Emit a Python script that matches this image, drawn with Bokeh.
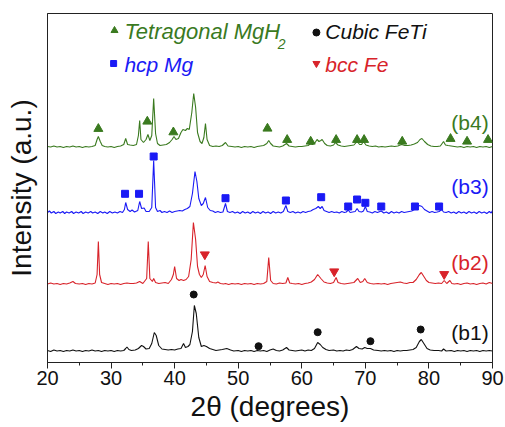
from bokeh.plotting import figure
from bokeh.models import Range1d, SingleIntervalTicker, FixedTicker, Label
from bokeh.embed import file_html
from bokeh.resources import INLINE

# ---- data: (2theta, relative intensity above each pattern's own baseline) ----
b1_pts = [(20.0,1),(20.5,0),(21.0,1.5),(21.5,0.5),(22.0,1),(22.5,0),(23.0,1),(23.5,0.5),(24.0,1.5),(24.5,0.5),
          (25.0,1),(25.5,0),(26.0,1),(26.5,0.5),(27.0,1.5),(27.5,0.5),(28.0,1),(28.5,0),(29.0,1),(29.5,0.5),
          (30.0,1),(30.5,0),(31.0,1),(31.5,0.5),(32.0,1),(32.3,3),(32.5,4.5),(32.8,2),(33.2,1),(33.8,1.5),
          (34.3,3),(34.8,6),(35.1,5),(35.5,2.5),(36.0,3),(36.4,8),(36.8,19),(37.1,16),(37.5,6),(38.0,2.5),
          (38.5,2),(39.0,1.5),(39.5,2),(40.0,1.5),(40.5,2.5),(41.0,3),(41.4,8),(41.7,4),(42.1,5),(42.4,7),
          (42.8,20),(43.1,46),(43.4,38),(43.8,14),(44.2,5),(44.6,6),(45.0,5),(45.5,3),(46.0,2),(46.5,1),
          (47.0,1.5),(47.5,2),(48.2,3),(48.8,1.5),(49.3,0.5),(50.0,1),(50.5,0),(51.0,1),(51.5,0.5),(52.0,1),
          (52.5,0),(53.0,1),(53.5,0.5),(54.0,1),(54.5,0),(55.0,1.5),(55.5,2.5),(56.0,1),(56.5,0.5),(57.0,1.5),
          (57.6,4),(58.0,1.5),(58.5,1),(59.0,0.5),(59.5,1),(60.0,1.5),(60.5,0.5),(61.0,1.5),(61.5,1),(62.0,3),
          (62.5,9),(62.9,7),(63.3,4),(63.8,2),(64.3,1),(65.0,1.5),(65.5,0.5),(66.0,1),(66.5,0.5),(67.0,1.5),
          (67.5,1),(68.0,2),(68.6,5),(69.0,3),(69.5,2.5),(69.9,4),(70.3,3),(70.8,3),(71.3,1.5),(72.0,1),
          (72.5,0.5),(73.0,1),(73.5,0.5),(74.0,1),(74.5,0),(75.0,1),(75.5,0.5),(76.0,1),(76.5,1),(77.0,1.5),
          (77.5,2),(78.0,4),(78.5,10),(78.8,12),(79.2,8),(79.7,3),(80.2,1.5),(80.8,1),(81.5,1),(82.0,0.5),
          (82.3,2.5),(82.7,0.5),(83.5,1),(84.0,0),(84.5,1),(85.0,0.5),(85.5,1),(86.0,0),(86.5,1),(87.0,0.5),
          (87.5,1),(88.0,0),(88.5,1),(89.0,0.5),(89.5,1),(90.0,0.5)]

b2_pts = [(20.0,0.5),(20.5,1.5),(21.0,0.5),(21.5,1),(22.0,0),(22.5,1),(23.0,0.5),(23.5,1.5),(24.0,3),(24.4,1),
          (25.0,0.5),(25.5,1),(26.0,0),(26.5,1),(27.0,0.5),(27.5,1.5),(27.8,10),(28.0,43),(28.2,10),(28.5,2),
          (29.0,1),(29.5,0),(30.0,1),(30.5,0.5),(31.0,1),(31.5,0),(32.0,1),(32.5,1.5),(33.0,1),(33.5,1),
          (34.0,1.5),(34.5,3),(35.0,1),(35.6,6),(35.85,43),(36.1,6),(36.5,3),(36.7,6),(37.0,2),(37.5,1),
          (38.0,1.5),(38.5,2),(39.0,1),(39.5,5),(39.8,10),(40.0,18),(40.3,6),(40.7,4),(41.0,5),(41.4,4),
          (41.8,5),(42.2,8),(42.6,25),(42.95,62),(43.3,45),(43.6,18),(43.9,10),(44.2,7),(44.5,10),(44.8,19),
          (45.1,8),(45.5,3),(46.0,2),(46.5,1.5),(46.8,2.5),(47.2,1),(47.7,0.5),(48.0,1),(48.5,0),(49.0,1),
          (49.5,0.5),(50.0,1),(50.5,0),(51.0,1),(51.5,0.5),(52.0,1),(52.5,0),(53.0,1),(53.5,0.5),(54.0,1),
          (54.5,3),(54.8,27),(55.1,4),(55.5,1),(56.0,0.5),(56.5,1.5),(57.0,1),(57.5,1.5),(57.8,7),(58.1,1.5),
          (58.5,1),(59.0,0.5),(59.5,1),(60.0,0),(60.5,1),(61.0,1.5),(61.5,2.5),(62.0,5),(62.5,10),(63.0,6),
          (63.5,2.5),(64.0,1.5),(64.5,1),(65.0,2),(65.4,7),(65.7,2),(66.2,1),(66.7,0.5),(67.2,1),(67.7,1.5),
          (68.2,2),(68.8,6),(69.2,2),(69.6,3),(69.9,6),(70.3,2),(70.8,1),(71.3,0.5),(72.0,1),(72.5,0.5),
          (73.0,1),(73.5,0),(74.0,1),(74.5,1.5),(75.0,2),(75.5,2.5),(76.0,1.5),(76.5,1),(77.0,2),(77.5,2),
          (78.0,5),(78.5,10),(78.8,12),(79.2,8),(79.6,4),(80.0,2),(80.5,1.5),(81.0,1),(81.5,1.5),(82.0,1),
          (82.4,4),(82.8,1),(83.3,4),(83.6,1),(84.0,0.5),(84.5,1),(85.0,0),(85.5,1),(86.0,1.5),(86.5,0.5),
          (87.0,1),(87.5,0),(88.0,1),(88.5,1.5),(89.0,0.5),(89.5,2),(90.0,1)]

b3_pts = [(20.0,1),(20.3,2.5),(20.6,0.5),(21.0,2),(21.3,0),(21.7,1.5),(22.0,0.5),(22.4,2),(22.7,0),(23.0,1.5),
          (23.4,0.5),(23.8,2),(24.1,0),(24.5,1.5),(24.9,0.5),(25.3,2),(25.6,0),(26.0,1.5),(26.4,0.5),(26.8,2),
          (27.1,0.5),(27.5,1.5),(27.9,0),(28.3,2),(28.7,0.5),(29.0,1.5),(29.4,0),(29.8,2),(30.2,0.5),(30.6,1.5),
          (31.0,0.5),(31.4,2),(31.8,1),(32.1,4),(32.3,11),(32.6,4),(33.0,2),(33.3,3.5),(33.7,1.5),(34.2,3),
          (34.5,12),(34.8,5),(35.2,5.5),(35.5,2),(36.0,2),(36.4,6),(36.7,53),(37.0,6),(37.3,2),(37.7,3),
          (38.0,1),(38.4,2),(38.8,1),(39.2,2.5),(39.6,1),(40.0,2),(40.4,2.5),(40.8,3),(41.2,2.5),(41.6,4),
          (42.0,5),(42.4,7),(42.8,20),(43.2,42),(43.5,32),(43.8,15),(44.2,8),(44.5,10),(44.85,16),(45.2,6),
          (45.6,3),(46.0,2.5),(46.4,1),(46.8,2),(47.2,1),(47.6,1.5),(48.0,10),(48.3,2),(48.7,1),(49.1,2),
          (49.5,0.5),(49.9,1.5),(50.3,0),(50.7,2),(51.1,0.5),(51.5,1.5),(51.9,0),(52.3,2),(52.7,0.5),(53.1,1.5),
          (53.5,0),(53.9,2),(54.3,0.5),(54.7,1.5),(55.1,0),(55.5,2),(55.9,0.5),(56.3,1.5),(56.7,0.5),(57.1,2),
          (57.5,8),(57.8,2),(58.2,1),(58.6,2),(59.0,0.5),(59.4,1.5),(59.8,0.5),(60.2,2),(60.6,1),(61.0,2),
          (61.4,2.5),(61.8,4),(62.2,5),(62.6,7),(62.9,5),(63.2,7),(63.5,3),(63.9,2),(64.3,1),(64.7,2),
          (65.1,1),(65.5,1.5),(65.9,0.5),(66.3,2),(66.7,1),(67.0,1.5),(67.3,3.5),(67.6,1),(68.0,1.5),(68.4,2),
          (68.7,5),(69.0,2),(69.4,1.5),(69.7,2.5),(70.0,7),(70.3,2),(70.7,1.5),(71.1,0.5),(71.5,2),(71.9,1),
          (72.5,2.5),(72.9,0.5),(73.3,1.5),(73.7,0),(74.1,2),(74.5,0.5),(74.9,1.5),(75.3,0.5),(75.7,2),(76.1,1),
          (76.5,1.5),(76.9,2),(77.3,2.5),(77.7,4),(78.1,5),(78.5,8),(78.9,7),(79.3,4),(79.7,2.5),(80.1,1),
          (80.5,2),(80.9,1),(81.3,1.5),(81.6,2),(82.0,4),(82.3,1.5),(82.7,1),(83.1,2),(83.5,0.5),(83.9,1.5),
          (84.3,0),(84.7,2),(85.1,0.5),(85.5,1.5),(85.9,0),(86.3,2),(86.7,0.5),(87.1,1.5),(87.5,0),(87.9,2),
          (88.3,0.5),(88.7,1.5),(89.1,0),(89.5,2),(89.8,0.5),(90.0,3)]

b4_pts = [(20.0,1),(20.5,0.5),(21.0,1.5),(21.5,0.5),(22.0,1),(22.5,0),(23.0,1),(23.5,0.5),(24.0,1.5),(24.5,0.5),
          (25.0,1),(25.5,0),(26.0,1),(26.5,0.5),(27.0,1),(27.5,2),(27.8,8),(28.0,11),(28.3,6),(28.6,2),
          (29.0,1),(29.5,0.5),(30.0,1),(30.5,0),(31.0,1),(31.5,1.5),(32.0,3),(32.3,9),(32.6,3),(33.0,2.5),
          (33.5,2),(34.0,3),(34.3,12),(34.5,27),(34.7,8),(35.1,5),(35.5,8),(35.8,13),(36.1,7),(36.4,12),
          (36.7,49),(37.0,14),(37.3,4),(37.7,2),(38.2,2.5),(38.7,3),(39.2,5),(39.6,8),(39.9,11),(40.2,8),
          (40.6,9),(41.0,15),(41.3,18),(41.7,17),(42.0,19),(42.3,18),(42.7,35),(43.0,54),(43.3,40),(43.6,15),
          (44.0,6),(44.3,4),(44.6,10),(44.85,24),(45.1,8),(45.5,2),(46.0,1),(46.5,1.5),(47.0,1),(47.5,2),
          (48.0,5),(48.4,1.5),(49.0,1),(49.5,0.5),(50.0,1),(50.5,0),(51.0,1),(51.5,0.5),(52.0,1),(52.5,0),
          (53.0,1),(53.5,1.5),(54.0,2),(54.5,4),(54.8,7),(55.1,4),(55.5,1.5),(56.0,1),(56.5,0.5),(57.0,1.5),
          (57.6,4),(58.0,1.5),(58.5,1),(59.0,0.5),(59.5,1),(60.0,1),(60.5,1.5),(61.0,2),(61.3,3.5),(61.7,3),
          (62.1,5),(62.4,8),(62.7,6),(63.0,7),(63.2,8),(63.6,4),(64.0,2),(64.5,1.5),(65.0,2.5),(65.3,5),
          (65.7,2.5),(66.2,1.5),(66.7,1),(67.2,1.5),(67.7,2),(68.2,2.5),(68.7,6),(69.1,3),(69.4,3),(69.7,6),
          (70.1,2.5),(70.6,1.5),(71.1,1),(71.6,1.5),(72.1,0.5),(72.6,1),(73.1,0.5),(73.6,1),(74.1,1.5),(74.6,1),
          (75.1,1.5),(75.7,3),(76.2,2),(76.7,2),(77.2,2.5),(77.7,3.5),(78.2,5),(78.6,8),(78.9,9),(79.3,6),
          (79.8,3),(80.3,1.5),(80.8,1),(81.3,1),(81.8,1.5),(82.3,6),(82.6,2.5),(83.0,2),(83.5,1.5),(84.0,1),
          (84.5,0.5),(85.0,1),(85.5,0),(86.0,1),(86.5,0.5),(87.0,1),(87.5,0),(88.0,1),(88.5,0.5),(89.0,1),
          (89.5,0),(90.0,1)]

# phase markers: peak positions (2theta) and marker heights above the pattern baseline
mgh2_pos = [28.0, 35.7, 39.8, 54.6, 57.7, 61.4, 65.4, 68.7, 69.8, 75.8, 83.4, 86.0, 89.3]
mgh2_h   = [18.7, 26.0, 15.3, 19.0, 7.7, 6.0, 7.7, 7.7, 7.7, 6.0, 8.7, 6.0, 7.7]
mg_pos   = [32.2, 34.4, 36.7, 48.0, 57.5, 63.05, 67.3, 68.7, 70.0, 72.5, 77.8, 81.6]
mg_h     = [19.7, 19.7, 57.0, 15.3, 13.0, 16.3, 7.0, 14.0, 10.7, 7.0, 7.0, 7.0]
fe_pos   = [44.75, 65.1, 82.4]
fe_h     = [30.0, 13.0, 10.3]
feti_pos = [43.0, 53.2, 62.5, 70.8, 78.7]
feti_h   = [57.0, 5.3, 19.3, 10.3, 22.0]

series_labels = ["(b1)", "(b2)", "(b3)", "(b4)"]
x_ticks = [20, 30, 40, 50, 60, 70, 80, 90]

# ---- layout / style ----
OFFSETS = [11, 78, 149, 215]
GREEN = "#3a7a1f"
BLUE = "#1a1af5"
RED = "#d8232a"
BLACK = "#111111"
COLORS = [BLACK, RED, BLUE, GREEN]
FONT = "Liberation Sans"

p = figure(width=505, height=427, output_backend="svg", toolbar_location=None,
           x_range=Range1d(20, 90), y_range=Range1d(0, 349),
           min_border_left=47, min_border_right=13, min_border_top=13, min_border_bottom=65)
p.background_fill_color = "white"
p.border_fill_color = "white"
p.grid.visible = False
p.outline_line_color = "#222222"
p.outline_line_width = 1

xa = p.xaxis[0]
xa.ticker = SingleIntervalTicker(interval=10, num_minor_ticks=2)
xa.major_tick_out = 6
xa.major_tick_in = 0
xa.minor_tick_out = 3
xa.minor_tick_in = 0
xa.axis_line_color = "#222222"
xa.major_tick_line_color = "#222222"
xa.minor_tick_line_color = "#222222"
xa.major_label_text_font = FONT
xa.major_label_text_font_size = "20px"
xa.major_label_text_color = BLACK
xa.major_label_standoff = 2
xa.axis_label = "2θ (degrees)"
xa.axis_label_text_font = FONT
xa.axis_label_text_font_size = "28px"
xa.axis_label_text_font_style = "normal"
xa.axis_label_text_color = BLACK
xa.axis_label_standoff = 3

ya = p.yaxis[0]
ya.ticker = FixedTicker(ticks=[])
ya.major_tick_line_color = None
ya.minor_tick_line_color = None
ya.major_label_text_font_size = "0px"
ya.axis_line_color = "#222222"
ya.axis_label = "Intensity (a.u.)"
ya.axis_label_text_font = FONT
ya.axis_label_text_font_size = "28px"
ya.axis_label_text_font_style = "normal"
ya.axis_label_text_color = BLACK
ya.axis_label_standoff = 11

# traces
for pts, off, col in zip([b1_pts, b2_pts, b3_pts, b4_pts], OFFSETS, COLORS):
    xs = [a for a, _ in pts]
    ys = [b + off for _, b in pts]
    p.line(xs, ys, line_color=col, line_width=1.1)

# phase markers
p.scatter(mgh2_pos, [h + OFFSETS[3] for h in mgh2_h], marker="triangle", size=9,
          fill_color=GREEN, line_color=GREEN)
p.scatter(mg_pos, [h + OFFSETS[2] for h in mg_h], marker="square", size=7,
          fill_color=BLUE, line_color=BLUE)
p.scatter(fe_pos, [h + OFFSETS[1] for h in fe_h], marker="inverted_triangle", size=9,
          fill_color=RED, line_color=RED)
p.scatter(feti_pos, [h + OFFSETS[0] for h in feti_h], marker="circle", size=7,
          fill_color=BLACK, line_color=BLACK)

# series labels (right side)
label_y = [30, 100, 176, 240]
for txt, yy, col in zip(series_labels, label_y, COLORS):
    p.add_layout(Label(x=89.4, y=yy, text=txt, text_font=FONT, text_font_size="21px",
                       text_color=col, text_align="right", text_baseline="middle"))

# legend (manual)
p.scatter([30.54], [332], marker="triangle", size=7, fill_color=GREEN, line_color=GREEN)
p.scatter([62.3], [330], marker="circle", size=7, fill_color=BLACK, line_color=BLACK)
p.scatter([30.4], [299], marker="square", size=6, fill_color=BLUE, line_color=BLUE)
p.scatter([62.3], [299], marker="inverted_triangle", size=7, fill_color=RED, line_color=RED)

def leg(x, y, txt, col, size="21px"):
    p.add_layout(Label(x=x, y=y, text=txt, text_font=FONT, text_font_size=size,
                       text_font_style="italic", text_color=col,
                       text_align="left", text_baseline="middle"))

leg(32.1, 331, "Tetragonal MgH", GREEN, "22px")
leg(56.2, 319, "2", GREEN, "14px")
leg(63.7, 331, "Cubic FeTi", BLACK)
leg(32.1, 298, "hcp Mg", BLUE)
leg(63.7, 298, "bcc Fe", RED)

open("out.html", "w").write(file_html(p, INLINE))
